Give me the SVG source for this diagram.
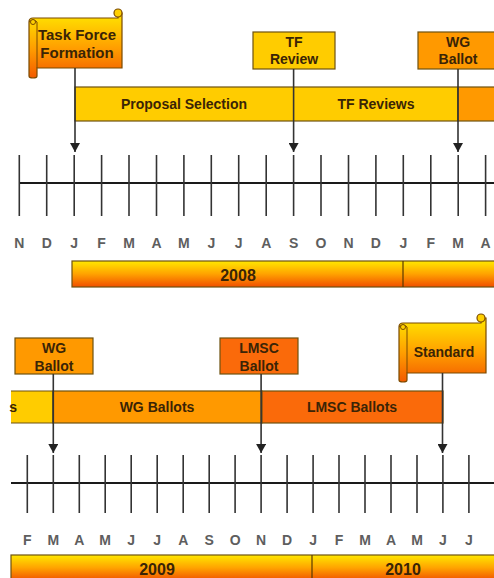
<svg xmlns="http://www.w3.org/2000/svg" width="494" height="578" viewBox="0 0 494 578">
<defs>
<linearGradient id="scrollG" x1="0" y1="0" x2="0" y2="1">
<stop offset="0" stop-color="#FFE600"/>
<stop offset="0.55" stop-color="#FF9D00"/>
<stop offset="1" stop-color="#F25A00"/>
</linearGradient>
<linearGradient id="yearG" x1="0" y1="0" x2="0" y2="1">
<stop offset="0" stop-color="#FFE800"/>
<stop offset="0.5" stop-color="#FFA200"/>
<stop offset="1" stop-color="#F04E00"/>
</linearGradient>
<marker id="ah" markerWidth="10" markerHeight="10" refX="9" refY="5" orient="auto" markerUnits="userSpaceOnUse">
<path d="M0,0 L9,5 L0,10 Z" fill="#222"/>
</marker>
</defs>
<style>
.lbl{font-family:"Liberation Sans",Arial,sans-serif;font-weight:bold;fill:#3a2406;text-anchor:middle}
.box{font-size:14px}
.bar{font-size:14px}
.mon{font-family:"Liberation Sans",Arial,sans-serif;font-weight:bold;font-size:14px;fill:#5e5e5e;text-anchor:middle}
.yr{font-size:16px}
.edge{stroke:#6e5210;stroke-width:1.2}
.tick{stroke:#333;stroke-width:1.6}
.axis{stroke:#1a1a1a;stroke-width:2.2}
.arr{stroke:#333;stroke-width:1.6;fill:none;marker-end:url(#ah)}
.scroll{fill:url(#scrollG);stroke:#7a4a00;stroke-width:1.2}
</style>

<!-- Top timeline -->
<g id="timeline-top">
<line class="axis" x1="19" y1="183" x2="494" y2="183"/>
<g class="tick">
<line x1="19.3" y1="155" x2="19.3" y2="216"/>
<line x1="46.7" y1="155" x2="46.7" y2="216"/>
<line x1="74.2" y1="155" x2="74.2" y2="216"/>
<line x1="101.6" y1="155" x2="101.6" y2="216"/>
<line x1="129" y1="155" x2="129" y2="216"/>
<line x1="156.5" y1="155" x2="156.5" y2="216"/>
<line x1="183.9" y1="155" x2="183.9" y2="216"/>
<line x1="211.3" y1="155" x2="211.3" y2="216"/>
<line x1="238.7" y1="155" x2="238.7" y2="216"/>
<line x1="266.2" y1="155" x2="266.2" y2="216"/>
<line x1="293.6" y1="155" x2="293.6" y2="216"/>
<line x1="321" y1="155" x2="321" y2="216"/>
<line x1="348.5" y1="155" x2="348.5" y2="216"/>
<line x1="375.9" y1="155" x2="375.9" y2="216"/>
<line x1="403.3" y1="155" x2="403.3" y2="216"/>
<line x1="430.8" y1="155" x2="430.8" y2="216"/>
<line x1="458.2" y1="155" x2="458.2" y2="216"/>
<line x1="485.6" y1="155" x2="485.6" y2="216"/>
</g>
<g class="mon">
<text x="19.3" y="248">N</text>
<text x="46.7" y="248">D</text>
<text x="74.2" y="248">J</text>
<text x="101.6" y="248">F</text>
<text x="129" y="248">M</text>
<text x="156.5" y="248">A</text>
<text x="183.9" y="248">M</text>
<text x="211.3" y="248">J</text>
<text x="238.7" y="248">J</text>
<text x="266.2" y="248">A</text>
<text x="293.6" y="248">S</text>
<text x="321" y="248">O</text>
<text x="348.5" y="248">N</text>
<text x="375.9" y="248">D</text>
<text x="403.3" y="248">J</text>
<text x="430.8" y="248">F</text>
<text x="458.2" y="248">M</text>
<text x="485.6" y="248">A</text>
</g>
</g>

<g id="year-2008">
<rect x="72" y="261" width="424" height="26" fill="url(#yearG)" class="edge"/>
<line x1="403" y1="261" x2="403" y2="287" stroke="#5a3a00" stroke-width="1.2"/>
<text class="lbl yr" x="238" y="281">2008</text>
</g>

<!-- Top phase bar -->
<g id="phase-proposal-selection">
<rect x="75" y="87" width="383" height="34" fill="#FFCC00" class="edge"/>
<text class="lbl bar" x="184" y="109">Proposal Selection</text>
</g>
<g id="phase-tf-reviews">
<text class="lbl bar" x="376" y="109">TF Reviews</text>
</g>
<g id="phase-wg-top">
<rect x="458" y="87" width="40" height="34" fill="#FF9900" class="edge"/>
</g>

<!-- Bottom timeline -->
<g id="timeline-bottom">
<line class="axis" x1="11" y1="483" x2="494" y2="483"/>
<g class="tick">
<line x1="27.3" y1="455" x2="27.3" y2="513"/>
<line x1="53.3" y1="455" x2="53.3" y2="513"/>
<line x1="79.3" y1="455" x2="79.3" y2="513"/>
<line x1="105.2" y1="455" x2="105.2" y2="513"/>
<line x1="131.2" y1="455" x2="131.2" y2="513"/>
<line x1="157.2" y1="455" x2="157.2" y2="513"/>
<line x1="183.2" y1="455" x2="183.2" y2="513"/>
<line x1="209.2" y1="455" x2="209.2" y2="513"/>
<line x1="235.1" y1="455" x2="235.1" y2="513"/>
<line x1="261.1" y1="455" x2="261.1" y2="513"/>
<line x1="287.1" y1="455" x2="287.1" y2="513"/>
<line x1="313.1" y1="455" x2="313.1" y2="513"/>
<line x1="339" y1="455" x2="339" y2="513"/>
<line x1="365" y1="455" x2="365" y2="513"/>
<line x1="391" y1="455" x2="391" y2="513"/>
<line x1="417" y1="455" x2="417" y2="513"/>
<line x1="442.9" y1="455" x2="442.9" y2="513"/>
<line x1="468.9" y1="455" x2="468.9" y2="513"/>
</g>
<g class="mon">
<text x="27.3" y="545">F</text>
<text x="53.3" y="545">M</text>
<text x="79.3" y="545">A</text>
<text x="105.2" y="545">M</text>
<text x="131.2" y="545">J</text>
<text x="157.2" y="545">J</text>
<text x="183.2" y="545">A</text>
<text x="209.2" y="545">S</text>
<text x="235.1" y="545">O</text>
<text x="261.1" y="545">N</text>
<text x="287.1" y="545">D</text>
<text x="313.1" y="545">J</text>
<text x="339" y="545">F</text>
<text x="365" y="545">M</text>
<text x="391" y="545">A</text>
<text x="417" y="545">M</text>
<text x="442.9" y="545">J</text>
<text x="468.9" y="545">J</text>
</g>
</g>

<g id="year-2009-2010">
<rect x="11" y="555" width="485" height="26" fill="url(#yearG)" class="edge"/>
<line x1="312" y1="555" x2="312" y2="578" stroke="#5a3a00" stroke-width="1.2"/>
<text class="lbl yr" x="157" y="575">2009</text>
<text class="lbl yr" x="403" y="575">2010</text>
</g>

<!-- Bottom phase bars -->
<g id="phase-tf-tail">
<rect x="11" y="391" width="42" height="32" fill="#FFCC00" class="edge" stroke-dasharray="116,32"/>
<text class="lbl bar" x="17" y="412" style="text-anchor:end">s</text>
</g>
<g id="phase-wg-ballots">
<rect x="53" y="391" width="209" height="32" fill="#FF9900" class="edge"/>
<text class="lbl bar" x="157" y="412">WG Ballots</text>
</g>
<g id="phase-lmsc-ballots">
<rect x="262" y="391" width="181" height="32" fill="#FA6A0A" class="edge"/>
<text class="lbl bar" x="352" y="412">LMSC Ballots</text>
</g>

<!-- Milestone nodes -->
<g id="node-task-force-formation">
<path class="scroll" d="M33,18 L118,18 L118,13 L122,13 L122,68 L37,68 L37,76 Q37,78 33,78 Q29,78 29,76 L29,22 Q29,18 33,18 Z"/>
<path d="M29,22 Q33,18 37,22 L37,68" fill="none" stroke="#7a4a00" stroke-width="1"/>
<circle cx="118" cy="13" r="4" fill="#FFD000" stroke="#7a4a00" stroke-width="1.2"/>
<circle cx="33" cy="22" r="2.5" fill="#FFD000" stroke="#7a4a00" stroke-width="1"/>
<text class="lbl" style="font-size:15px" x="77" y="40">Task Force</text>
<text class="lbl" style="font-size:15px" x="77" y="58">Formation</text>
</g>

<g id="node-tf-review">
<rect x="253" y="32" width="82" height="37" fill="#FFCC00" class="edge"/>
<text class="lbl box" x="294" y="47">TF</text>
<text class="lbl box" x="294" y="64">Review</text>
</g>

<g id="node-wg-ballot-top">
<rect x="418" y="32" width="80" height="37" fill="#FF9900" class="edge"/>
<text class="lbl box" x="458" y="47">WG</text>
<text class="lbl box" x="458" y="64">Ballot</text>
</g>

<g id="node-wg-ballot-bottom">
<rect x="15" y="338" width="78" height="36" fill="#FF9900" class="edge"/>
<text class="lbl box" x="54" y="353">WG</text>
<text class="lbl box" x="54" y="371">Ballot</text>
</g>

<g id="node-lmsc-ballot">
<rect x="220" y="338" width="78" height="36" fill="#FA6A0A" class="edge"/>
<text class="lbl box" x="259" y="353">LMSC</text>
<text class="lbl box" x="259" y="371">Ballot</text>
</g>

<g id="node-standard">
<path class="scroll" d="M403,323 L481,323 L481,318 L486,318 L486,373 L407,373 L407,380 Q407,382 403,382 Q399,382 399,380 L399,327 Q399,323 403,323 Z"/>
<path d="M399,327 Q403,323 407,327 L407,373" fill="none" stroke="#7a4a00" stroke-width="1"/>
<circle cx="481" cy="318" r="4" fill="#FFD000" stroke="#7a4a00" stroke-width="1.2"/>
<circle cx="403" cy="327" r="2.5" fill="#FFD000" stroke="#7a4a00" stroke-width="1"/>
<text class="lbl box" x="444" y="357">Standard</text>
</g>

<!-- Connectors -->
<g id="connectors">
<line class="arr" x1="75" y1="68" x2="75" y2="152"/>
<line class="arr" x1="293.6" y1="69" x2="293.6" y2="152"/>
<line class="arr" x1="458" y1="69" x2="458" y2="152"/>
<line class="arr" x1="53.3" y1="374" x2="53.3" y2="453"/>
<line class="arr" x1="261.1" y1="374" x2="261.1" y2="453"/>
<line class="arr" x1="442.5" y1="373" x2="442.5" y2="453"/>
</g>
</svg>
